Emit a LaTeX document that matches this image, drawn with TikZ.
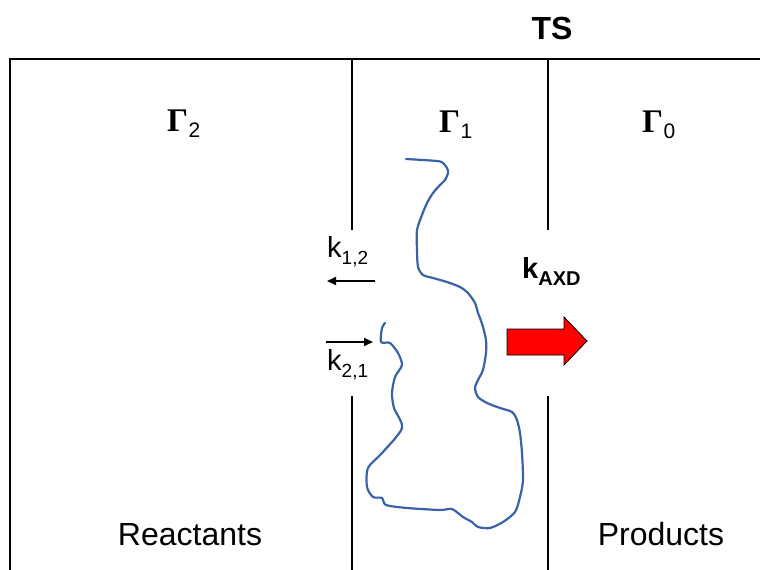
\documentclass[tikz,border=0pt]{standalone}
\usepackage{fontspec}
\setmainfont{Liberation Sans}
\newfontfamily\gammafont{Liberation Serif}
\usetikzlibrary{arrows.meta,positioning}
\definecolor{trajblue}{HTML}{3A62A8}
\newcommand{\gammasub}[1]{{\gammafont\bfseries\fontsize{33}{36}\selectfont Γ}\hspace{0.5pt}\raisebox{-6pt}{\fontsize{21}{24}\selectfont #1}}
\tikzset{
  wall/.style={line width=1.7pt},
  lbl/.style={font=\fontsize{32}{36}\selectfont, inner sep=0pt, anchor=base},
  gam/.style={inner sep=0pt, anchor=base west},
  rate/.style={inner sep=0pt, anchor=base west, font=\fontsize{29}{32}\selectfont},
  arr/.style={-{Triangle[length=9pt,width=8pt]}, line width=1.9pt},
  traj/.style={draw=trajblue, line width=2.2pt, line cap=round, line join=round},
  bigarr/.style={draw=black, line width=0.8pt, fill=red}
}
\begin{document}
\begin{tikzpicture}[x=1pt,y=-1pt]
\useasboundingbox (0,0) rectangle (760,570);
% frame and dividing surfaces
\coordinate (tl) at (10,59);
\coordinate (tr) at (760,59);
\coordinate (bl) at (10,570);
\draw[wall] (bl) -- (tl) -- (tr);
\foreach \x in {352,548}
  \draw[wall] (\x,59) -- (\x,230) (\x,396) -- (\x,570);
% labels
\node[lbl, font=\bfseries\fontsize{32}{36}\selectfont] (ts) at (552,39) {TS};
\node[gam] (g2) at (167,131) {\gammasub{2}};
\node[gam] (g1) at (439,132) {\gammasub{1}};
\node[gam] (g0) at (642,132) {\gammasub{0}};
\node[lbl] (reac) at (190,545) {Reactants};
\node[lbl] (prod) at (661,545) {Products};
% rates
\node[rate] (k12) at (327,257) {k\raisebox{-7pt}{\fontsize{19}{22}\selectfont 1,2}};
\node[rate] (k21) at (327,370) {k\raisebox{-7pt}{\fontsize{19}{22}\selectfont 2,1}};
\node[rate, font=\bfseries\fontsize{29}{32}\selectfont] (kaxd) at (522,278) {k\raisebox{-7pt}{\fontsize{20}{22}\selectfont AXD}};
\coordinate (k12a) at (375,281);
\coordinate (k12b) at (327,281);
\coordinate (k21a) at (326,342);
\coordinate (k21b) at (373,342);
\draw[arr] (k12a) -- (k12b);
\draw[arr] (k21a) -- (k21b);
\draw[bigarr] (507,329) -- (564,329) -- (564,317) -- (587,341) -- (564,365) -- (564,355) -- (507,355) -- cycle;
% trajectory
\draw[traj] plot[smooth, tension=0.45] coordinates {
  (385,323) (382,328) (381,342) (390,343) (398,353) (402,365) (395,377)
  (392,393) (394,408) (402,428) (383,452) (368,468) (367,487) (373,497)
  (382,498) (386,505) (407,508) (440,510) (452,509) (463,517) (472,522)
  (478,527) (490,528) (503,522) (515,512) (520,497) (523,480) (522,453)
  (520,433) (517,420) (512,412) (500,408) (487,403) (478,397) (475,388)
  (478,380) (483,370) (486,353) (486,340) (483,327) (480,318) (478,313)
  (475,303) (468,293) (460,287) (447,282) (433,278) (423,275) (418,267)
  (417,250) (417,230) (422,215) (427,203) (433,193) (440,185) (445,180)
  (448,173) (447,168) (443,163) (437,161) (406,159)};
\end{tikzpicture}
\end{document}
